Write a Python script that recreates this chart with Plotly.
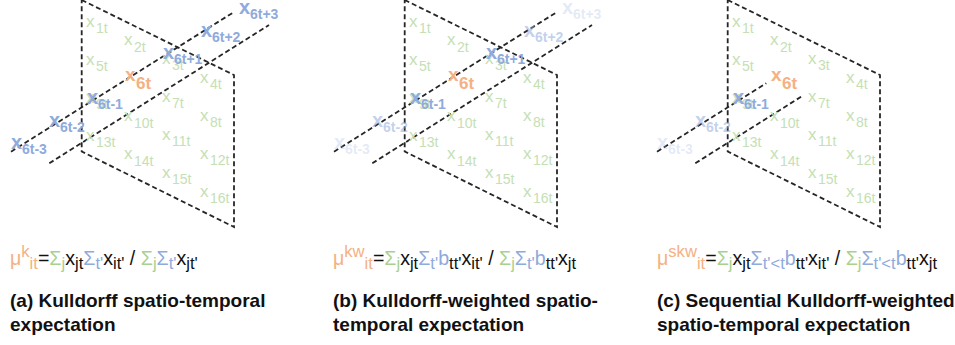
import plotly.graph_objects as go

# ---------------------------------------------------------------- data
cell_ids = list(range(1, 17))            # spatial units j on a 4 x 4 map
grid_rows = [(j - 1) // 4 for j in cell_ids]
grid_cols = [(j - 1) % 4 for j in cell_ids]
focal_cell = 6                           # unit i whose expectation is shown

time_steps = [-3, -2, -1, 0, 1, 2, 3]    # temporal neighbours of the focal unit
time_labels = ["6t-3", "6t-2", "6t-1", "6t", "6t+1", "6t+2", "6t+3"]

# emphasis of each temporal neighbour in the three schemes (None = not used)
weights_a = [1, 1, 1, 1, 1, 1, 1]
weights_b = [0.25, 0.55, 1, 1, 1, 0.55, 0.25]
weights_c = [0.25, 0.55, 1, 1, None, None, None]
panel_weights = [weights_a, weights_b, weights_c]
# how far along the time axis each scheme reaches (1 = whole axis)
panel_reach = [1.0, 1.0, 0.49]

captions = [
    ("(a) Kulldorff spatio-temporal", "expectation"),
    ("(b) Kulldorff-weighted spatio-", "temporal expectation"),
    ("(c) Sequential Kulldorff-weighted", "spatio-temporal expectation"),
]

# ---------------------------------------------------------------- style
GREEN = "#c5e0b4"
GREEN_F = "#a9d18e"
BLUE = "#8faadc"
ORANGE = "#f4b183"
INK = "#111111"
DASH = "#262626"
FONT = "Liberation Sans, Arial, sans-serif"

W, H = 955, 345
panel_x = [0, 323, 646]
FORMULA_SIZE = 19.6
SCRIPT_SIZE = 16.6


def rgba(hex_color, alpha):
    h = hex_color.lstrip("#")
    r, g, b = int(h[0:2], 16), int(h[2:4], 16), int(h[4:6], 16)
    return f"rgba({r},{g},{b},{alpha})"


def span(color, text):
    return f"<span style='color:{color}'>{text}</span>"


def sub(text):
    return f"<sub><span style='font-size:{SCRIPT_SIZE}px'>{text}</span></sub>"


def sup(text):
    return f"<sup><span style='font-size:{SCRIPT_SIZE}px'>{text}</span></sup>"


formulas = [
    span(ORANGE, "μ" + sup("k") + sub("it")) + "="
    + span(GREEN_F, "Σ" + sub("j")) + "x" + sub("jt")
    + span(BLUE, "Σ" + sub("t'")) + "x" + sub("it'") + " / "
    + span(GREEN_F, "Σ" + sub("j")) + span(BLUE, "Σ" + sub("t'"))
    + "x" + sub("jt'"),
    span(ORANGE, "μ" + sup("kw") + sub("it")) + "="
    + span(GREEN_F, "Σ" + sub("j")) + "x" + sub("jt")
    + span(BLUE, "Σ" + sub("t'") + "b") + sub("tt'") + "x" + sub("it'") + " / "
    + span(GREEN_F, "Σ" + sub("j")) + span(BLUE, "Σ" + sub("t'") + "b")
    + sub("tt'") + "x" + sub("jt"),
    span(ORANGE, "μ" + sup("skw") + sub("it")) + "="
    + span(GREEN_F, "Σ" + sub("j")) + "x" + sub("jt")
    + span(BLUE, "Σ" + sub("t'&lt;t") + "b") + sub("tt'") + "x" + sub("it'")
    + " / "
    + span(GREEN_F, "Σ" + sub("j")) + span(BLUE, "Σ" + sub("t'&lt;t") + "b")
    + sub("tt'") + "x" + sub("jt"),
]

fig = go.Figure()
annotations = []


def text_at(x, baseline, text, size, color, bold=False):
    """Left-aligned text whose baseline sits at the given pixel row."""
    annotations.append(dict(
        x=x, y=baseline - 0.3465 * size, xref="x", yref="y",
        text=text, showarrow=False, xanchor="left", yanchor="middle",
        borderpad=0, borderwidth=0,
        font=dict(family=FONT, size=size, color=color,
                  weight="bold" if bold else "normal"),
    ))


def dashed(xs, ys):
    fig.add_trace(go.Scatter(
        x=xs, y=ys, mode="lines", hoverinfo="skip", showlegend=False,
        line=dict(color=DASH, width=1.8, dash="5px,3px"),
    ))


for p, ox in enumerate(panel_x):
    # map plane of spatial units
    dashed([ox + 81.7, ox + 234, ox + 234, ox + 81.7, ox + 81.7],
           [0, 75, 227, 151.5, 0])

    # time axis through the focal unit (two rails)
    reach = panel_reach[p]
    for (x0, y0), (x1, y1) in [((11, 151.7), (234, 12)),
                               ((49.3, 163.3), (269, 25))]:
        dashed([ox + x0, ox + x0 + (x1 - x0) * reach],
               [y0, y0 + (y1 - y0) * reach])

    # spatial units x_jt
    for j, r, c in zip(cell_ids, grid_rows, grid_cols):
        if j == focal_cell:
            continue
        xl = ox + 86 + 38 * c
        base = 22.5 + 38 * r + 18.7 * c + 0.26 * 17
        text_at(xl, base, "x", 17, GREEN)
        text_at(xl + 9.5, base + 6, f"{j}t", 14, GREEN)

    # temporal neighbours x_i,t'
    for k, (dt, lab, w) in enumerate(zip(time_steps, time_labels,
                                         panel_weights[p])):
        if w is None:
            continue
        xl = ox + 10.5 + 38 * k
        centre = 144 - 22.5 * k
        if dt == 0:
            base = centre + 0.26 * 19
            text_at(xl, base, "x", 19, ORANGE, bold=True)
            text_at(xl + 11, base + 7.5, lab, 17, ORANGE, bold=True)
        else:
            col = rgba(BLUE, w)
            base = centre + 0.26 * 20
            text_at(xl, base, "x", 20, col, bold=True)
            text_at(xl + 11.5, base + 5, lab, 14, col, bold=True)

    # expectation formula and caption
    tx = ox + 10 + (1 if p == 2 else 0)
    text_at(tx, 264, formulas[p], FORMULA_SIZE, INK)
    text_at(tx, 307.5, captions[p][0], 19, INK, bold=True)
    text_at(tx, 331.5, captions[p][1], 19, INK, bold=True)

fig.update_layout(
    width=W, height=H,
    margin=dict(l=0, r=0, t=0, b=0),
    paper_bgcolor="white", plot_bgcolor="white",
    xaxis=dict(range=[0, W], visible=False, fixedrange=True),
    yaxis=dict(range=[H, 0], visible=False, fixedrange=True),
    annotations=annotations,
    showlegend=False,
)

fig.write_html("out.html")
